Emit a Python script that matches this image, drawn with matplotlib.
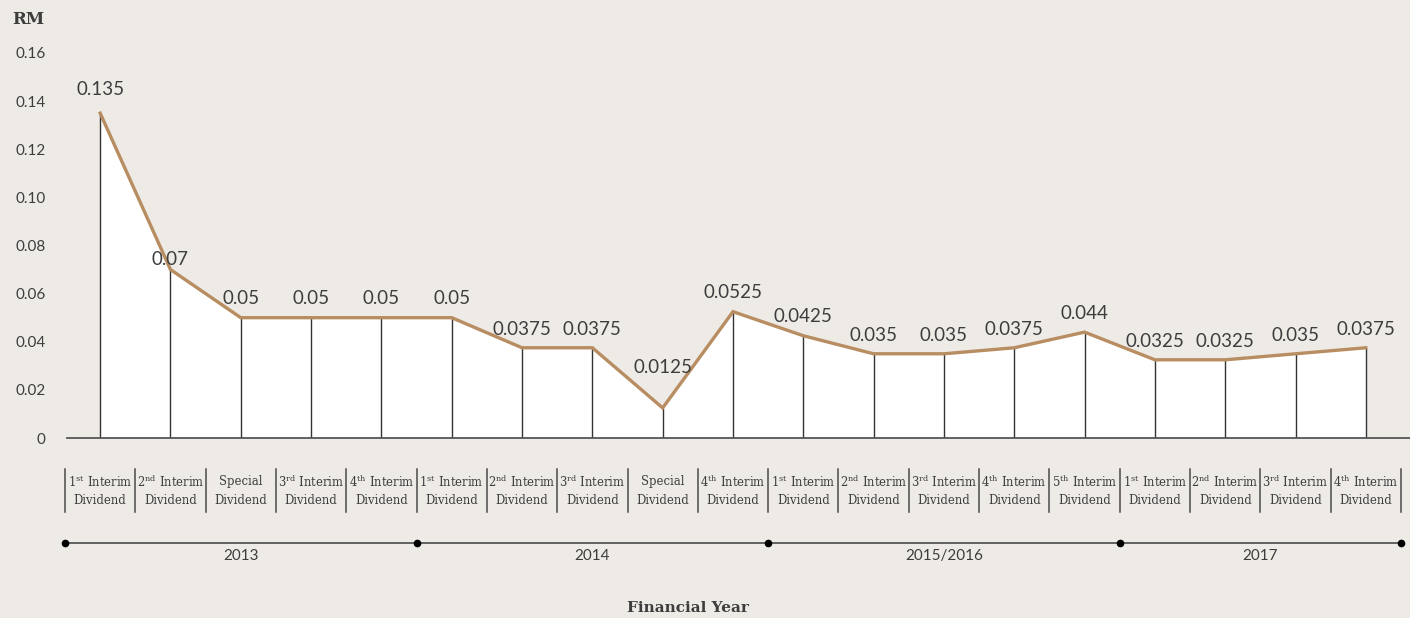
import matplotlib
matplotlib.use("Agg")
import matplotlib.pyplot as plt
import numpy as np

# ---- data ----
values = [0.135, 0.07, 0.05, 0.05, 0.05, 0.05, 0.0375, 0.0375, 0.0125, 0.0525,
          0.0425, 0.035, 0.035, 0.0375, 0.044, 0.0325, 0.0325, 0.035, 0.0375]
value_labels = ["0.135", "0.07", "0.05", "0.05", "0.05", "0.05", "0.0375", "0.0375",
                "0.0125", "0.0525", "0.0425", "0.035", "0.035", "0.0375", "0.044",
                "0.0325", "0.0325", "0.035", "0.0375"]
categories = [
    r"1$^{\mathrm{st}}$ Interim", r"2$^{\mathrm{nd}}$ Interim", "Special",
    r"3$^{\mathrm{rd}}$ Interim", r"4$^{\mathrm{th}}$ Interim",
    r"1$^{\mathrm{st}}$ Interim", r"2$^{\mathrm{nd}}$ Interim", r"3$^{\mathrm{rd}}$ Interim",
    "Special", r"4$^{\mathrm{th}}$ Interim",
    r"1$^{\mathrm{st}}$ Interim", r"2$^{\mathrm{nd}}$ Interim", r"3$^{\mathrm{rd}}$ Interim",
    r"4$^{\mathrm{th}}$ Interim", r"5$^{\mathrm{th}}$ Interim",
    r"1$^{\mathrm{st}}$ Interim", r"2$^{\mathrm{nd}}$ Interim", r"3$^{\mathrm{rd}}$ Interim",
    r"4$^{\mathrm{th}}$ Interim",
]
years = ["2013", "2014", "2015/2016", "2017"]
year_counts = [5, 5, 5, 4]
y_ticks = [0, 0.02, 0.04, 0.06, 0.08, 0.10, 0.12, 0.14, 0.16]
y_tick_labels = ["0", "0.02", "0.04", "0.06", "0.08", "0.10", "0.12", "0.14", "0.16"]

# ---- style ----
plt.rcParams["mathtext.fontset"] = "dejavuserif"
BG = "#eeebe7"
LINE = "#b88d62"
TXT = "#3d3d3d"
NUMFONT = "Lato"
SERIF = "DejaVu Serif"

W, H = 1410, 618
fig = plt.figure(figsize=(W / 100, H / 100), dpi=100)
fig.patch.set_facecolor(BG)

# axes: x cells from 65px to 1401px, y 0 at 438px, 0.16 at 53px
left, right, y0, y1 = 65, 1401, 438, 53
ax = fig.add_axes([left / W, (H - y0) / H, (right - left) / W, (y0 - y1) / H])
ax.set_facecolor("none")
n = len(values)
x = np.arange(n)
ax.set_xlim(-0.5, n - 0.5)
ax.set_ylim(0, 0.16)
for s in ax.spines.values():
    s.set_visible(False)
ax.set_xticks([])
ax.set_yticks(y_ticks)
ax.set_yticklabels(y_tick_labels, fontsize=11, color=TXT, family=NUMFONT)
ax.tick_params(axis="y", length=0, pad=14)

# white area under the curve
ax.fill_between(x, 0, values, color="white", zorder=1, linewidth=0)
# vertical lines
ax.vlines(x, 0, values, color="#333333", linewidth=1.0, zorder=2)
# curve
ax.plot(x, values, color=LINE, linewidth=2.4, zorder=3, solid_joinstyle="miter")
# baseline
ax.plot([-0.47, 18.63], [0, 0], color="#555555", linewidth=1.3, clip_on=False, zorder=2)

# value labels
special_offset = {0: 17, 1: 7, 8: 29}
for i, (v, lab) in enumerate(zip(values, value_labels)):
    off = special_offset.get(i, 13.5)
    ax.annotate(lab, (i, v), xytext=(0, off), textcoords="offset points",
                ha="center", va="center",
                fontsize=13.5, color=TXT, family=NUMFONT, zorder=4)

tr = ax.get_xaxis_transform()
def fy(py):
    return (y0 - py) / (y0 - y1)

# category labels
for i, c in enumerate(categories):
    ax.text(i, fy(482), c, transform=tr, ha="center", va="center",
            fontsize=8.4, color=TXT, family=SERIF, clip_on=False)
    ax.text(i, fy(500), "Dividend", transform=tr, ha="center", va="center",
            fontsize=8.4, color=TXT, family=SERIF, clip_on=False)
for e in np.arange(n + 1) - 0.5:
    ax.plot([e, e], [fy(469), fy(512)], transform=tr, color="#4a4a4a",
            linewidth=1.1, clip_on=False)

# year timeline
ax.plot([-0.5, n - 0.5], [fy(543), fy(543)], transform=tr, color="#4a4a4a",
        linewidth=1.2, clip_on=False)
edges = np.concatenate([[0], np.cumsum(year_counts)]) - 0.5
ax.plot(edges, [fy(543)] * len(edges), "o", transform=tr, color="black",
        markersize=4.5, clip_on=False)
for k, yr in enumerate(years):
    mid = (edges[k] + edges[k + 1]) / 2
    ax.text(mid, fy(556), yr, transform=tr, ha="center", va="center",
            fontsize=11, color=TXT, family=NUMFONT, clip_on=False)

fig.text(688 / W, 1 - 608 / H, "Financial Year", ha="center", va="center",
         fontsize=11, fontweight="bold", color=TXT, family=SERIF)
fig.text(28 / W, 1 - 20 / H, "RM", ha="center", va="center",
         fontsize=12, fontweight="bold", color=TXT, family=SERIF)

fig.savefig("out.png", dpi=100, facecolor=BG)
